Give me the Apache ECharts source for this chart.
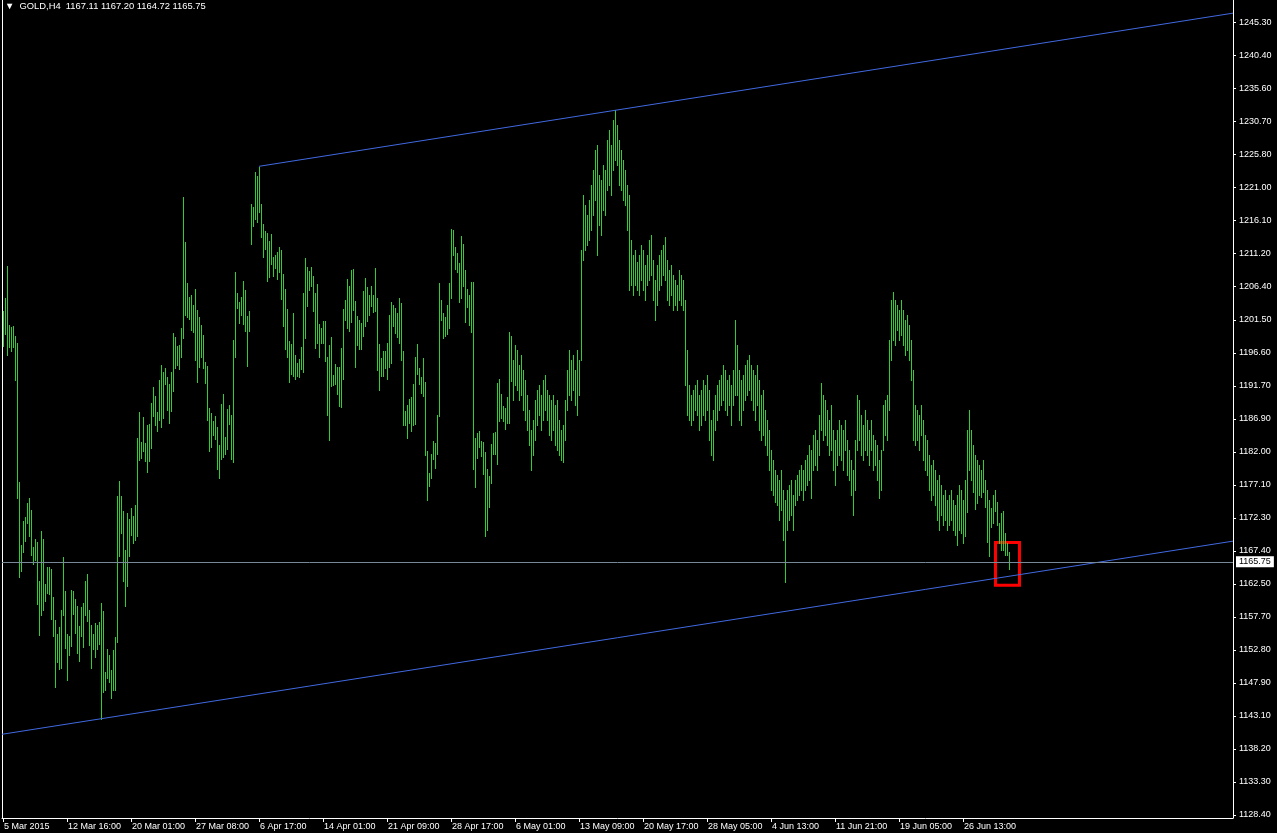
<!DOCTYPE html>
<html><head><meta charset="utf-8">
<script src="https://cdn.jsdelivr.net/npm/echarts@6/dist/echarts.min.js"></script>
<style>html,body{margin:0;padding:0;background:#000;}#c{width:1277px;height:833px;}</style>
</head><body><div id="c"></div>
<script>
const symbolTitle = 'GOLD,H4';
const lastOHLC = ['1167.11', '1167.20', '1164.72', '1165.75'];
const xTickLabels = ['5 Mar 2015','12 Mar 16:00','20 Mar 01:00','27 Mar 08:00','6 Apr 17:00','14 Apr 01:00','21 Apr 09:00','28 Apr 17:00','6 May 01:00','13 May 09:00','20 May 17:00','28 May 05:00','4 Jun 13:00','11 Jun 21:00','19 Jun 05:00','26 Jun 13:00'];
const xTickEvery = 32;
const yTickLabels = ['1128.40','1133.30','1138.20','1143.10','1147.90','1152.80','1157.70','1162.50','1167.40','1172.30','1177.10','1182.00','1186.90','1191.70','1196.60','1201.50','1206.40','1211.20','1216.10','1221.00','1225.80','1230.70','1235.60','1240.40','1245.30'];
const highs = [
1202.8,1204.7,1209.4,1200.7,1200.4,1200.5,1199.1,1198.0,1177.5,1168.2,
1171.8,1172.4,1174.4,1175.2,1173.4,1167.9,1169.1,1168.7,1162.9,1170.3,
1169.1,1162.5,1165.0,1165.0,1164.7,1160.6,1157.2,1155.1,1156.1,1158.6,
1166.5,1161.4,1155.1,1154.8,1161.6,1161.4,1160.3,1159.2,1156.3,1159.1,
1159.7,1162.9,1164.0,1158.6,1156.4,1155.1,1156.7,1156.4,1156.9,1159.7,
1158.5,1149.5,1152.9,1152.0,1149.8,1152.7,1154.7,1175.5,1177.7,1175.5,
1173.3,1167.5,1173.0,1172.1,1173.7,1172.5,1174.1,1184.0,1187.9,1183.4,
1187.1,1183.3,1185.9,1186.1,1189.2,1191.5,1190.2,1187.9,1192.6,1194.8,
1193.8,1194.4,1193.0,1192.0,1193.8,1199.5,1198.9,1197.6,1197.7,1200.3,
1219.6,1212.9,1206.9,1204.8,1205.1,1203.6,1206.0,1202.9,1201.9,1200.7,
1199.2,1195.2,1194.6,1188.4,1187.7,1186.5,1187.3,1185.6,1183.0,1189.0,
1190.5,1184.2,1188.3,1188.9,1187.4,1198.5,1208.5,1205.4,1204.1,1204.8,
1207.2,1205.9,1202.0,1202.8,1218.5,1218.1,1223.3,1222.7,1224.0,1218.5,
1215.6,1214.6,1214.3,1213.1,1214.1,1210.7,1211.0,1211.5,1212.2,1211.8,
1208.2,1206.0,1203.0,1198.3,1197.9,1202.5,1196.3,1195.1,1195.7,1197.4,
1205.4,1210.6,1209.2,1208.6,1209.2,1207.9,1205.4,1206.7,1200.8,1200.3,
1201.3,1201.3,1196.0,1197.7,1198.9,1193.3,1194.9,1194.5,1194.5,1197.3,
1203.0,1204.4,1207.5,1206.4,1208.8,1209.0,1204.2,1202.0,1201.4,1201.0,
1205.7,1207.6,1206.3,1205.1,1206.4,1205.1,1209.1,1204.7,1197.9,1195.8,
1196.9,1196.9,1198.0,1202.2,1204.1,1203.6,1203.2,1202.5,1204.7,1203.9,
1196.9,1188.0,1188.9,1189.8,1190.1,1192.0,1196.0,1197.9,1194.4,1193.0,
1195.8,1192.3,1182.1,1178.9,1181.7,1183.6,1183.3,1187.4,1206.9,1204.4,
1202.5,1201.9,1203.6,1206.9,1214.9,1214.7,1212.2,1211.3,1209.8,1213.8,
1212.6,1208.8,1206.0,1205.1,1207.0,1207.0,1184.0,1184.8,1185.1,1183.6,
1183.4,1182.0,1179.4,1178.4,1183.1,1184.8,1184.9,1192.1,1192.7,1190.5,
1188.7,1188.4,1190.1,1199.7,1199.1,1195.5,1197.7,1197.0,1194.8,1196.3,
1194.1,1192.6,1190.4,1188.2,1185.2,1186.7,1189.6,1191.1,1191.8,1190.4,
1192.6,1193.3,1191.1,1190.4,1189.6,1190.4,1188.9,1189.6,1186.7,1185.2,
1185.9,1189.6,1194.1,1197.0,1195.5,1196.3,1194.1,1197.0,1195.5,1211.8,
1219.9,1218.4,1216.9,1219.1,1221.4,1223.6,1226.5,1227.2,1222.8,1222.1,
1224.3,1223.6,1228.0,1229.5,1227.2,1230.9,1232.4,1230.2,1228.0,1226.5,
1225.0,1223.6,1221.4,1219.9,1213.2,1211.0,1211.8,1210.0,1211.0,1212.5,
1211.8,1209.5,1211.0,1213.2,1214.0,1210.3,1207.3,1209.5,1211.0,1211.8,
1212.5,1213.7,1210.3,1208.8,1209.5,1208.1,1207.3,1206.6,1208.8,1208.1,
1207.3,1204.4,1197.0,1191.8,1190.4,1191.1,1191.8,1192.6,1190.4,1191.1,
1192.6,1191.8,1193.3,1191.1,1186.7,1188.2,1190.4,1191.8,1192.6,1193.3,
1194.8,1194.1,1192.6,1193.3,1191.8,1194.1,1201.4,1197.7,1194.1,1192.6,
1193.3,1194.8,1195.5,1196.3,1194.8,1194.1,1193.3,1194.8,1192.6,1190.4,
1191.1,1188.2,1186.7,1185.2,1182.2,1180.8,1179.3,1178.6,1177.8,1179.3,
1176.3,1174.9,1176.3,1177.1,1177.8,1175.6,1177.8,1178.6,1179.3,1180.0,
1179.3,1180.8,1181.5,1183.0,1182.2,1184.5,1185.2,1183.7,1187.4,1192.1,
1190.4,1189.6,1188.2,1186.7,1188.9,1185.2,1183.7,1185.2,1186.7,1185.9,
1185.2,1186.7,1183.7,1182.2,1180.8,1179.3,1183.7,1190.4,1189.6,1187.4,
1185.9,1188.2,1186.7,1185.2,1186.7,1184.5,1183.7,1183.0,1180.8,1182.2,
1188.9,1189.6,1190.4,1198.5,1204.4,1205.6,1204.4,1203.6,1202.9,1204.4,
1202.9,1201.4,1202.2,1200.7,1198.5,1194.1,1188.9,1188.2,1187.4,1188.9,
1186.7,1184.5,1183.7,1181.5,1180.0,1180.8,1179.3,1177.8,1178.6,1177.1,
1175.6,1176.3,1174.9,1175.6,1176.3,1174.9,1174.1,1175.6,1177.1,1176.3,
1174.9,1177.8,1185.2,1188.2,1185.2,1183.0,1181.5,1180.8,1180.0,1179.3,
1180.8,1177.8,1176.3,1174.9,1173.7,1175.6,1176.3,1174.6,1171.5,1173.0,
1173.2,1170.0,1168.5,1167.2
];
const lows = [
1197.6,1199.4,1196.3,1197.4,1196.9,1197.4,1192.6,1175.2,1163.5,1164.4,
1167.2,1168.8,1171.5,1169.6,1166.8,1165.4,1166.0,1159.5,1155.0,1157.9,
1158.6,1160.0,1161.2,1161.0,1157.3,1154.8,1147.3,1151.0,1149.9,1150.1,
1157.9,1153.0,1148.3,1152.0,1153.3,1158.1,1155.3,1152.3,1151.1,1154.8,
1153.2,1157.9,1157.0,1153.5,1150.1,1152.9,1151.7,1152.9,1153.6,1142.6,
1146.5,1146.8,1148.6,1148.0,1145.7,1146.8,1146.8,1153.9,1166.6,1170.0,
1162.9,1159.2,1162.2,1166.6,1169.7,1168.5,1169.0,1169.6,1180.8,1181.1,
1182.1,1180.6,1179.0,1180.6,1182.5,1187.3,1185.9,1185.1,1186.7,1185.6,
1187.0,1192.0,1188.2,1186.2,1188.0,1191.0,1194.4,1194.8,1194.2,1196.0,
1198.8,1202.2,1201.9,1201.6,1200.0,1199.7,1195.5,1192.3,1194.5,1196.0,
1194.4,1192.1,1186.7,1182.1,1182.7,1184.5,1183.9,1179.4,1178.1,1180.9,
1181.2,1181.7,1182.4,1186.1,1180.9,1180.5,1196.0,1203.2,1201.0,1202.2,
1200.8,1199.8,1194.6,1199.8,1212.6,1215.3,1216.3,1215.9,1217.4,1213.7,
1210.7,1211.9,1207.2,1207.8,1209.7,1207.9,1209.1,1207.5,1208.5,1204.5,
1200.5,1197.1,1196.0,1192.3,1193.5,1193.2,1192.7,1193.2,1193.0,1194.2,
1193.8,1198.8,1203.5,1205.9,1206.4,1202.8,1197.3,1198.0,1196.0,1198.0,
1198.0,1195.4,1187.4,1183.7,1191.7,1191.8,1192.0,1190.5,1188.7,1188.6,
1192.7,1201.4,1200.3,1199.8,1201.1,1202.9,1194.5,1197.7,1197.1,1197.1,
1199.1,1200.5,1201.3,1202.2,1203.5,1202.6,1202.8,1194.1,1191.1,1193.2,
1193.2,1194.4,1192.7,1194.5,1195.1,1200.5,1199.5,1198.9,1198.0,1195.5,
1185.9,1185.9,1184.0,1186.2,1185.1,1185.9,1186.1,1193.5,1192.0,1190.7,
1190.2,1181.5,1174.9,1176.9,1178.1,1180.9,1179.6,1181.7,1187.3,1201.4,
1198.8,1199.1,1199.4,1200.3,1204.7,1211.0,1209.0,1208.5,1204.1,1204.7,
1206.4,1201.1,1203.3,1200.7,1199.7,1179.4,1176.8,1181.1,1182.7,1181.4,
1178.7,1169.6,1170.4,1173.8,1177.4,1181.7,1181.7,1180.2,1186.5,1187.0,
1186.5,1185.3,1186.2,1186.2,1192.4,1189.6,1191.8,1191.1,1189.6,1190.4,
1188.2,1186.7,1185.2,1183.0,1179.3,1181.5,1183.7,1185.9,1187.4,1185.2,
1186.7,1188.2,1186.7,1184.5,1183.7,1185.2,1183.0,1182.2,1181.5,1180.8,
1180.5,1183.7,1188.2,1190.4,1189.6,1191.1,1188.9,1187.4,1190.4,1195.5,
1210.3,1211.8,1212.5,1213.2,1214.7,1216.9,1219.1,1211.0,1215.4,1214.0,
1217.7,1216.9,1220.6,1221.4,1219.9,1223.6,1225.0,1224.3,1221.4,1220.6,
1219.1,1218.4,1214.7,1205.9,1206.6,1205.1,1206.6,1205.9,1205.1,1207.3,
1205.9,1204.4,1206.6,1207.3,1208.1,1204.4,1201.4,1203.6,1205.9,1206.6,
1208.1,1207.3,1204.4,1203.6,1205.1,1202.9,1203.6,1202.9,1204.4,1203.6,
1202.9,1191.8,1187.4,1186.7,1185.9,1186.7,1188.2,1187.4,1185.2,1185.9,
1187.4,1186.7,1188.2,1183.7,1181.5,1180.8,1185.2,1186.7,1188.2,1188.9,
1189.6,1188.2,1187.4,1188.9,1185.9,1188.9,1190.4,1190.4,1186.7,1185.9,
1188.2,1189.6,1190.4,1191.1,1189.6,1188.2,1186.7,1188.9,1185.2,1183.7,
1184.5,1183.0,1181.5,1179.3,1176.3,1175.6,1174.6,1174.1,1171.9,1173.4,
1169.0,1162.8,1170.4,1171.9,1172.7,1170.4,1174.1,1174.9,1175.6,1176.3,
1174.9,1176.3,1177.1,1177.8,1175.2,1179.3,1180.0,1179.3,1181.5,1185.2,
1183.7,1184.5,1183.0,1181.5,1182.2,1179.3,1177.1,1180.0,1181.5,1180.8,
1179.3,1182.2,1178.6,1177.8,1175.6,1172.7,1176.3,1182.2,1183.7,1181.5,
1180.8,1182.2,1181.5,1180.0,1182.2,1179.3,1180.0,1177.8,1175.2,1176.3,
1182.2,1184.5,1183.7,1188.2,1195.5,1198.5,1197.7,1200.0,1198.5,1199.2,
1197.7,1196.3,1197.0,1195.5,1192.6,1183.7,1183.0,1183.7,1182.2,1184.5,
1180.8,1179.3,1178.6,1176.3,1174.9,1175.6,1174.1,1171.9,1170.4,1172.7,
1171.2,1171.9,1170.4,1171.2,1171.9,1170.4,1169.7,1168.2,1170.4,1170.0,
1168.5,1169.6,1173.1,1179.3,1177.8,1176.0,1173.5,1174.4,1175.6,1175.3,
1176.0,1173.8,1168.7,1166.6,1170.9,1171.5,1173.2,1171.2,1168.5,1167.5,
1167.5,1166.7,1166.7,1164.7
];
const bidPrice = 1165.75;
const upperChannel = [[128, 1224.1], [615, 1246.7]];
const lowerChannel = [[-0.5, 1140.3], [615, 1168.8]];
const highlightBox = [[496.25, 1168.6], [508.25, 1162.3]];

const yFirst = parseFloat(yTickLabels[0]);
const yStep = (parseFloat(yTickLabels[yTickLabels.length - 1]) - yFirst) / (yTickLabels.length - 1);
const yTickValues = yTickLabels.map((_, k) => yFirst + k * yStep);
const xTickValues = xTickLabels.map((_, k) => k * xTickEvery);
const bars = highs.map((h, i) => [i, h, lows[i]]);

const FONT = '"Liberation Sans", "DejaVu Sans", sans-serif';
const chart = echarts.init(document.getElementById('c'), null, {renderer: 'canvas'});
chart.setOption({
  animation: false,
  backgroundColor: '#000000',
  title: {
    text: '\u25BC  ' + symbolTitle + '  ' + lastOHLC.join(' '),
    left: 5, top: 1, padding: 0,
    textStyle: {color: '#ffffff', fontSize: 9.4, fontWeight: 'normal', fontFamily: FONT, lineHeight: 10}
  },
  grid: {left: 2, right: 44, top: 0, bottom: 15, containLabel: false},
  xAxis: {
    type: 'value', min: -0.5, max: 615,
    splitLine: {show: false},
    axisLine: {show: true, onZero: false, lineStyle: {color: '#ffffff', width: 1}},
    axisTick: {show: true, length: 4, inside: false, customValues: xTickValues, lineStyle: {color: '#ffffff'}},
    axisLabel: {
      show: true, customValues: xTickValues, color: '#ffffff', fontSize: 9, fontFamily: FONT,
      margin: 4, align: 'left', padding: [0, 0, 0, 1],
      formatter: v => xTickLabels[Math.round(v / xTickEvery)] || ''
    }
  },
  yAxis: [{
    type: 'value', position: 'right', min: 1127.95, max: 1248.64,
    splitLine: {show: false},
    axisLine: {show: true, onZero: false, lineStyle: {color: '#ffffff', width: 1}},
    axisTick: {show: true, length: 3, inside: false, customValues: yTickValues, lineStyle: {color: '#ffffff'}},
    axisLabel: {
      show: true, customValues: yTickValues, color: '#ffffff', fontSize: 9, fontFamily: FONT, margin: 6,
      formatter: v => yTickLabels[Math.round((v - yFirst) / yStep)] || ''
    }
  }, {
    type: 'value', position: 'left', min: 1127.95, max: 1248.64,
    splitLine: {show: false}, axisTick: {show: false}, axisLabel: {show: false},
    axisLine: {show: true, onZero: false, lineStyle: {color: '#ffffff', width: 1}}
  }],
  series: [
    {
      type: 'custom', name: 'bars', data: bars, clip: true,
      encode: {x: 0, y: [1, 2]},
      renderItem: function (params, api) {
        const i = api.value(0);
        const p1 = api.coord([i, api.value(1)]);
        const p2 = api.coord([i, api.value(2)]);
        const x = Math.round(p1[0]) + 0.5;
        return {type: 'line', shape: {x1: x, y1: Math.round(p1[1]), x2: x, y2: Math.round(p2[1]) + 1},
          style: {stroke: '#32CD32', lineWidth: 1}};
      }
    },
    {
      type: 'line', name: 'upper', data: upperChannel, symbol: 'none', silent: true,
      lineStyle: {color: '#4169E1', width: 1}
    },
    {
      type: 'line', name: 'lower', data: lowerChannel, symbol: 'none', silent: true,
      lineStyle: {color: '#4169E1', width: 1}
    },
    {
      type: 'line', name: 'marks', data: [], silent: true,
      markLine: {
        silent: true, symbol: ['none', 'none'], animation: false,
        lineStyle: {color: '#778899', width: 1, type: 'solid'},
        label: {
          show: true, position: 'end', distance: 3, formatter: bidPrice.toFixed(2),
          color: '#000000', backgroundColor: '#ffffff', padding: [1, 3, 1, 3],
          fontSize: 9, fontFamily: FONT
        },
        data: [{yAxis: bidPrice}]
      },
      markArea: {
        silent: true,
        itemStyle: {color: 'rgba(0,0,0,0)', borderColor: '#ff0000', borderWidth: 3},
        data: [[{coord: highlightBox[0]}, {coord: highlightBox[1]}]]
      }
    }
  ]
});
</script>
</body></html>
